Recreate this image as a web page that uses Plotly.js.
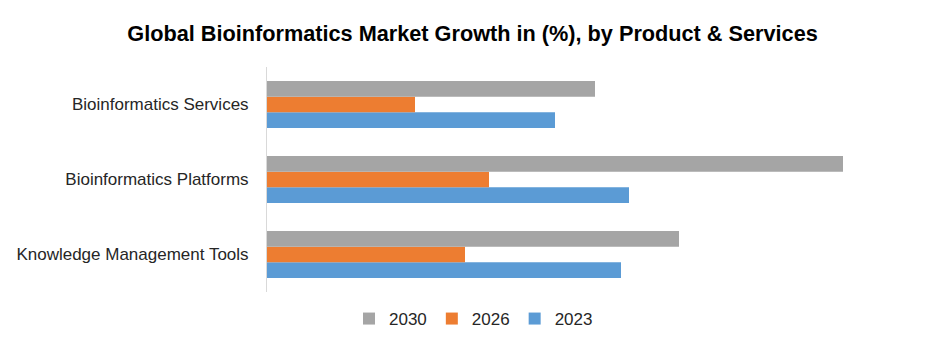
<!DOCTYPE html>
<html><head><meta charset="utf-8">
<script src="https://cdn.plot.ly/plotly-3.0.1.min.js"></script>
<style>html,body{margin:0;padding:0;background:#fff}#chart{width:947px;height:348px}</style>
</head><body><div id="chart"></div>
<script>
const categories = ["Knowledge Management Tools", "Bioinformatics Platforms", "Bioinformatics Services"];
const years = ["2023", "2026", "2030"];
const values2023 = [8.85, 9.05, 7.2];
const values2026 = [4.95, 5.55, 3.7];
const values2030 = [10.3, 14.4, 8.2];
const colors = {"2023": "#5B9BD5", "2026": "#ED7D31", "2030": "#A5A5A5"};
const seriesValues = {"2023": values2023, "2026": values2026, "2030": values2030};

const traces = years.map(yr => ({
  type: "bar", orientation: "h", name: yr,
  y: categories, x: seriesValues[yr],
  marker: {color: colors[yr]}, hoverinfo: "x+y+name"
}));

const layout = {
  width: 947, height: 348,
  margin: {l: 267, r: 40, t: 67, b: 56},
  paper_bgcolor: "#fff", plot_bgcolor: "#fff",
  barmode: "group", bargap: 0.373, bargroupgap: 0,
  title: {text: "<b>Global Bioinformatics Market Growth in (%), by Product &amp; Services</b>",
    font: {family: "Liberation Sans, Arial, sans-serif", size: 21.7, color: "#000"},
    x: 0.499, xref: "container", xanchor: "center", y: 0.905, yref: "container", yanchor: "middle"},
  xaxis: {range: [0, 16], visible: false, showgrid: false, zeroline: false, fixedrange: true},
  yaxis: {showline: true, linecolor: "#d9d9d9", linewidth: 1, ticks: "", ticklen: 0,
    tickfont: {family: "Liberation Sans, Arial, sans-serif", size: 17, color: "#262626"},
    ticklabelstandoff: 14, showgrid: false, zeroline: false, range: [-0.5, 2.5]},
  showlegend: true,
  legend: {orientation: "h", traceorder: "reversed", xref: "container", x: 0.5, xanchor: "center",
    yref: "container", y: 1 - 319/348, yanchor: "middle",
    font: {family: "Liberation Sans, Arial, sans-serif", size: 17, color: "#262626"},
    itemwidth: 30}
};
Plotly.newPlot("chart", traces, layout, {displayModeBar: false, staticPlot: true});
</script></body></html>
